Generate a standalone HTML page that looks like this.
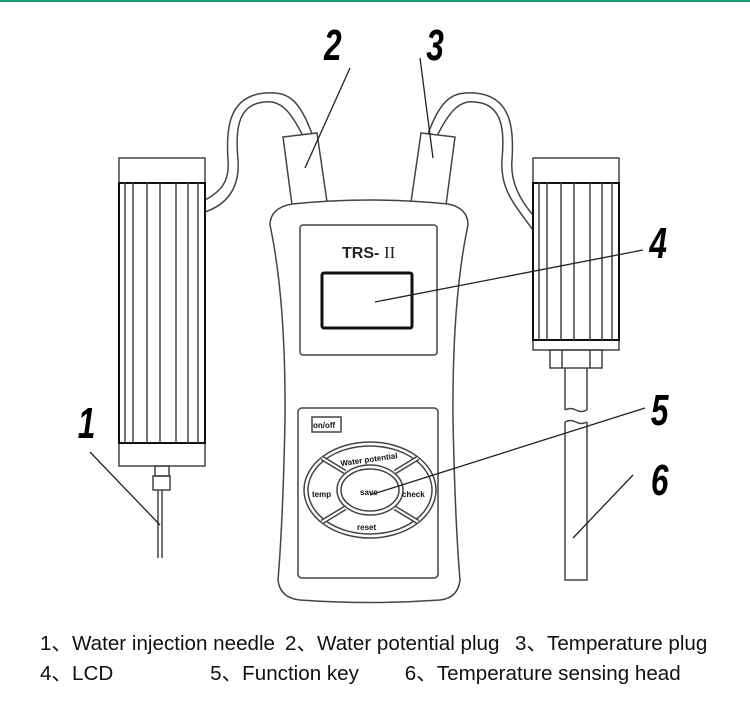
<!DOCTYPE html>
<html><head><meta charset="utf-8"><style>
html,body{margin:0;padding:0;background:#fff;}
svg{display:block;}
.n{font-family:"Liberation Sans",sans-serif;font-weight:bold;font-style:italic;font-size:44px;fill:#000;}
.k{font-family:"Liberation Sans",sans-serif;font-weight:bold;font-size:8px;fill:#111;}
.lg{font-family:"Liberation Sans","Noto Sans CJK SC",sans-serif;font-size:20px;fill:#111;}
</style></head><body>
<svg width="750" height="708" viewBox="0 0 750 708" xmlns="http://www.w3.org/2000/svg">
<rect x="0" y="0" width="750" height="2" fill="#1a9e6e"/>
<g fill="none" stroke="#444" stroke-width="1.5">
<path d="M303,136 C290,110 280,100 265,102 C235,104 236,135 238,160 C240,190 225,205 205,212"/>
<path d="M312,134 C298,95 285,92 265,93 C228,96 226,130 228,160 C230,182 220,192 205,200"/>
<path d="M437,136 C450,110 460,100 475,102 C505,104 504,135 502,160 C500,190 515,205 533,230"/>
<path d="M428,134 C442,95 455,92 475,93 C512,96 514,130 512,160 C510,182 520,200 533,215"/>
<path d="M283,137 L317,133 L327,202 L292,205 Z" fill="#fff"/>
<path d="M421,133 L455,137 L446,205 L411,202 Z" fill="#fff"/>
<path d="M292,204 Q370,196 448,204 Q468,208 468,225 Q452,300 453,420 Q455,520 460,580 Q458,598 440,600 Q370,605 300,600 Q280,598 278,580 Q283,520 285,420 Q286,300 270,225 Q270,208 292,204 Z" fill="#fff"/>
<rect x="300" y="225" width="137" height="130" rx="3"/>
<rect x="298" y="408" width="140" height="170" rx="4"/>
<rect x="312" y="417" width="29" height="15"/>
<ellipse cx="370" cy="490" rx="66" ry="48"/>
<ellipse cx="370" cy="490" rx="62" ry="44"/>
<ellipse cx="370" cy="490" rx="33" ry="25"/>
<ellipse cx="370" cy="490" rx="29" ry="21"/>
<path d="M322,458 L345,472 M418,458 L395,472 M322,522 L345,508 M418,522 L395,508" stroke-width="5"/>
<path d="M322,458 L345,472 M418,458 L395,472 M322,522 L345,508 M418,522 L395,508" stroke="#fff" stroke-width="2"/>
<rect x="119" y="158" width="86" height="308" fill="#fff"/>
<rect x="119" y="183" width="86" height="260" stroke="#111" stroke-width="2"/>
<path d="M125,183V443 M133,183V443 M147,183V443 M160,183V443 M176,183V443 M188,183V443 M198,183V443"/>
<rect x="155" y="466" width="14" height="10"/>
<rect x="153" y="476" width="17" height="14"/>
<path d="M158,490V558 M162,490V558"/>
<rect x="533" y="158" width="86" height="192" fill="#fff"/>
<rect x="533" y="183" width="86" height="157" stroke="#111" stroke-width="2"/>
<path d="M539,183V340 M547,183V340 M561,183V340 M574,183V340 M590,183V340 M602,183V340 M612,183V340"/>
<rect x="550" y="350" width="52" height="18"/>
<path d="M562,350V368 M590,350V368"/>
<path d="M565,368V410 M587,368V410 M565,410 q5,-3 11,0 q5,3 11,0"/>
<path d="M565,422 q5,-3 11,0 q5,3 11,0 M565,422V580H587V422"/>
</g>
<rect x="322" y="273" width="90" height="55" rx="2" fill="none" stroke="#111" stroke-width="3"/>
<text x="342" y="258" font-family="Liberation Sans,sans-serif" font-weight="bold" font-size="16" fill="#222">TRS-</text>
<text x="384" y="258" font-family="Liberation Serif,serif" font-size="17" fill="#222">II</text>
<text class="k" x="313" y="428">on/off</text>
<text class="k" x="340" y="462" transform="rotate(-8 370 458)">Water potential</text>
<text class="k" x="312" y="497">temp</text>
<text class="k" x="360" y="495">save</text>
<text class="k" x="402" y="497">check</text>
<text class="k" x="357" y="530">reset</text>
<g stroke="#222" stroke-width="1.3">
<line x1="90" y1="452" x2="160" y2="525"/>
<line x1="350" y1="68" x2="305" y2="168"/>
<line x1="420" y1="58" x2="433" y2="158"/>
<line x1="375" y1="302" x2="643" y2="250"/>
<line x1="370" y1="495" x2="645" y2="408"/>
<line x1="573" y1="538" x2="633" y2="475"/>
</g>
<g class="n">
<text x="108" y="438" transform="scale(0.72 1)">1</text>
<text x="450" y="60" transform="scale(0.72 1)">2</text>
<text x="592" y="60" transform="scale(0.72 1)">3</text>
<text x="902" y="258" transform="scale(0.72 1)">4</text>
<text x="904" y="425" transform="scale(0.72 1)">5</text>
<text x="904" y="495" transform="scale(0.72 1)">6</text>
</g>
<g transform="scale(1.03 1)">
<text class="lg" x="38.8" y="650">1、Water injection needle</text>
<text class="lg" x="276.7" y="650">2、Water potential plug</text>
<text class="lg" x="500" y="650">3、Temperature plug</text>
<text class="lg" x="38.8" y="680">4、LCD</text>
<text class="lg" x="204" y="680">5、Function key</text>
<text class="lg" x="393" y="680">6、Temperature sensing head</text>
</g>
</svg>
</body></html>
